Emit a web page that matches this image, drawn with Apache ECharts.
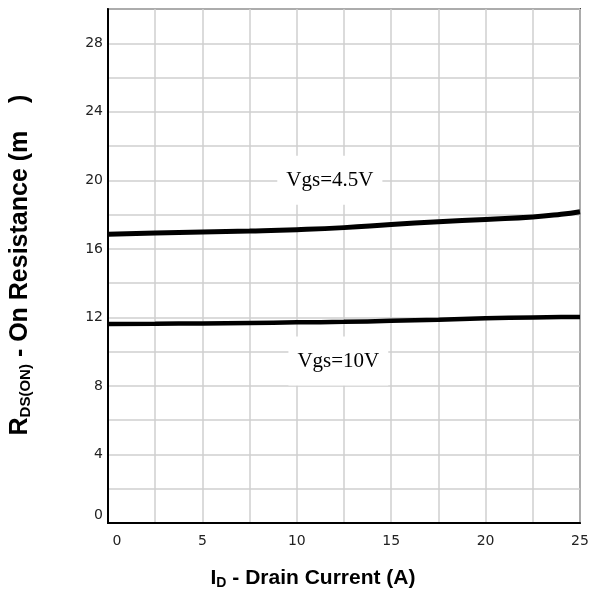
<!DOCTYPE html>
<html>
<head>
<meta charset="utf-8">
<script src="https://cdn.jsdelivr.net/npm/echarts@6/dist/echarts.min.js"></script>
<style>
html,body{margin:0;padding:0;background:#fff;}
#chart{width:595px;height:601px;}
</style>
</head>
<body>
<div id="chart"></div>
<script>
// Data
const currents = [0, 2.5, 5, 7.5, 10, 12.5, 15, 17.5, 20, 22.5, 24, 25];
const rdsVgs45 = [16.85, 16.92, 16.98, 17.04, 17.12, 17.24, 17.42, 17.58, 17.72, 17.86, 18.02, 18.17];
const rdsVgs10 = [11.62, 11.63, 11.65, 11.68, 11.71, 11.74, 11.80, 11.87, 11.95, 12.00, 12.02, 12.03];
const seriesNames = ['Vgs=4.5V', 'Vgs=10V'];
const labelPositions = [[11.75, 20.0], [12.2, 9.45]];
const xTickLabels = ['0', '5', '10', '15', '20', '25'];
const yTickLabels = ['0', '4', '8', '12', '16', '20', '24', '28'];

const chart = echarts.init(document.getElementById('chart'), null, {renderer: 'canvas'});

function pairs(xs, ys) { return xs.map((x, i) => [x, ys[i]]); }

const tickFont = {fontFamily: 'DejaVu Sans', fontSize: 14, color: '#222'};

chart.setOption({
  animation: false,
  backgroundColor: '#fff',
  grid: {left: 108, right: 15, top: 9, bottom: 78, show: true, borderColor: '#444', borderWidth: 2, backgroundColor: 'transparent'},
  xAxis: {
    type: 'value', min: 0, max: 25, interval: 2.5,
    axisLine: {show: true, lineStyle: {color: '#000', width: 2}},
    axisTick: {show: false},
    splitLine: {show: true, lineStyle: {color: '#cfcfcf', width: 1.5}},
    axisLabel: Object.assign({}, tickFont, {
      margin: 11,
      formatter: function (v) {
        const s = String(v);
        if (xTickLabels.indexOf(s) < 0) return '';
        return s === '0' ? '{z|0}' : s;
      },
      rich: {z: Object.assign({}, tickFont, {padding: [0, 0, 0, 18]})}
    })
  },
  yAxis: {
    type: 'value', min: 0, max: 30, interval: 2,
    axisLine: {show: true, lineStyle: {color: '#000', width: 2}},
    axisTick: {show: false},
    splitLine: {show: true, lineStyle: {color: '#cfcfcf', width: 1.5}},
    axisLabel: Object.assign({}, tickFont, {
      margin: 5,
      formatter: function (v) {
        const s = String(v);
        if (yTickLabels.indexOf(s) < 0) return '';
        return s === '0' ? '{z|0}' : s;
      },
      rich: {z: Object.assign({}, tickFont, {padding: [0, 0, 16, 0]})}
    })
  },
  series: [
    {
      name: seriesNames[0], type: 'line', smooth: true, symbol: 'none',
      data: pairs(currents, rdsVgs45),
      lineStyle: {color: '#000', width: 5}, z: 3
    },
    {
      name: seriesNames[1], type: 'line', smooth: true, symbol: 'none',
      data: pairs(currents, rdsVgs10),
      lineStyle: {color: '#000', width: 4.5}, z: 3
    },
    {
      type: 'scatter', symbolSize: 0, z: 4, silent: true,
      itemStyle: {opacity: 1},
      data: labelPositions.map((p, i) => ({value: p, name: seriesNames[i]})),
      label: {
        show: true, position: 'inside', opacity: 1,
        formatter: function (p) { return p.name; },
        fontFamily: 'Liberation Serif', fontSize: 21, color: '#000',
        backgroundColor: '#fff', padding: [14, 9, 14, 9]
      }
    }
  ],
  graphic: [
    {
      type: 'text', x: 20, y: 265, rotation: Math.PI / 2,
      style: {
        text: '{b|R}{s|DS(ON)}{b| - On Resistance (m    )}',
        align: 'center', verticalAlign: 'middle',
        rich: {
          b: {fontFamily: 'Liberation Sans', fontWeight: 'bold', fontSize: 25, fill: '#000', color: '#000'},
          s: {fontFamily: 'Liberation Sans', fontWeight: 'bold', fontSize: 15, fill: '#000', color: '#000', padding: [11, 0, 0, 0]}
        }
      }
    },
    {
      type: 'text', x: 313, y: 578,
      style: {
        text: '{b|I}{s|D}{b| - Drain Current (A)}',
        align: 'center', verticalAlign: 'middle',
        rich: {
          b: {fontFamily: 'Liberation Sans', fontWeight: 'bold', fontSize: 21, fill: '#000', color: '#000'},
          s: {fontFamily: 'Liberation Sans', fontWeight: 'bold', fontSize: 14, fill: '#000', color: '#000', padding: [10, 0, 0, 0]}
        }
      }
    }
  ]
});
</script>
</body>
</html>
